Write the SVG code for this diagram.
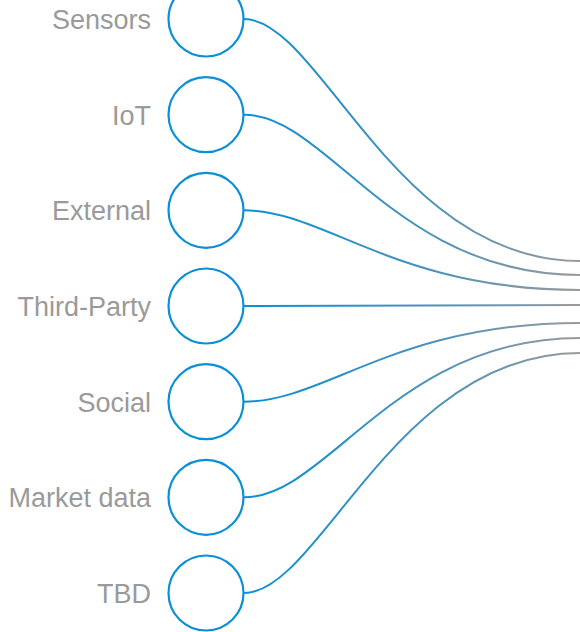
<svg xmlns="http://www.w3.org/2000/svg" width="580" height="632" viewBox="0 0 580 632">
<style>
.node circle{fill:#fff;stroke:#0b8fd6;stroke-width:2.2}
.node text{font-family:"Liberation Sans",Arial,sans-serif;font-size:27px;fill:#9a9a9a;text-anchor:end}
.links path{fill:none;stroke:url(#lg);stroke-width:2}
</style>
<defs>
<linearGradient id="lg" gradientUnits="userSpaceOnUse" x1="244" y1="0" x2="580" y2="0">
<stop offset="0" stop-color="#0b8fd6"/>
<stop offset="0.55" stop-color="#4a92bc"/>
<stop offset="1" stop-color="#9a9a9a"/>
</linearGradient>
</defs>
<rect width="580" height="632" fill="#fff"/>
<g class="links">
<path d="M244,19 C320,19 395,261 580,261"/>
<path d="M244,114.7 C328,114.7 395,275 580,275"/>
<path d="M244,210.3 C325,210.3 395,290 580,290"/>
<path d="M244,306 L580,305"/>
<path d="M244,401.7 C325,401.7 395,323 580,323"/>
<path d="M244,497.3 C328,497.3 395,338 580,338"/>
<path d="M244,593 C320,593 395,353 580,353"/>
</g>
<g id="node-sensors" class="node"><circle cx="206" cy="19" r="37.5"/><text x="151" y="29">Sensors</text></g>
<g id="node-iot" class="node"><circle cx="206" cy="114.7" r="37.5"/><text x="151" y="124.7">IoT</text></g>
<g id="node-external" class="node"><circle cx="206" cy="210.3" r="37.5"/><text x="151" y="220.3">External</text></g>
<g id="node-third-party" class="node"><circle cx="206" cy="306" r="37.5"/><text x="151" y="316">Third-Party</text></g>
<g id="node-social" class="node"><circle cx="206" cy="401.7" r="37.5"/><text x="151" y="411.7">Social</text></g>
<g id="node-market-data" class="node"><circle cx="206" cy="497.3" r="37.5"/><text x="151" y="507.3">Market data</text></g>
<g id="node-tbd" class="node"><circle cx="206" cy="593" r="37.5"/><text x="151" y="603">TBD</text></g>
</svg>
